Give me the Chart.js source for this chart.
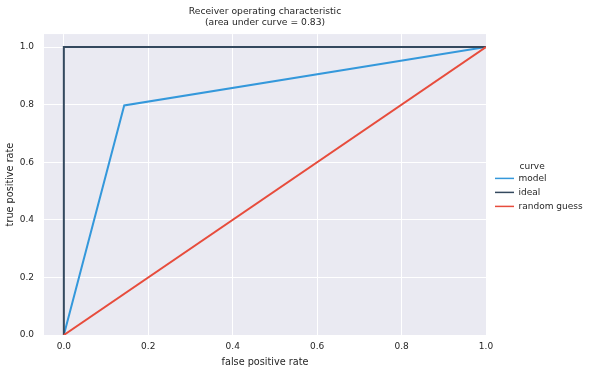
<!DOCTYPE html>
<html>
<head>
<meta charset="utf-8">
<script src="https://cdn.jsdelivr.net/npm/chart.js@4/dist/chart.umd.min.js"></script>
<style>
  html, body { margin: 0; padding: 0; background: #fff; }
  #wrap { width: 589px; height: 374px; position: relative; }
</style>
</head>
<body>
<div id="wrap"><canvas id="roc"></canvas></div>
<script>
// ── DATA ─────────────────────────────────────────────────────────────────────
const TITLE_LINES = ['Receiver operating characteristic', '(area under curve = 0.83)'];
const LEGEND_TITLE = 'curve';
const SERIES_NAMES = ['model', 'ideal', 'random guess'];
const MODEL_FPR  = [0, 0.143, 1];
const MODEL_TPR  = [0, 0.797, 1];
const IDEAL_FPR  = [0, 0, 1];
const IDEAL_TPR  = [0, 1, 1];
const RANDOM_FPR = [0, 1];
const RANDOM_TPR = [0, 1];
const TICKS = [0, 0.2, 0.4, 0.6, 0.8, 1.0];

const COLORS = { model: '#3498db', ideal: '#34495e', random: '#e74c3c' };
const FAMILY = 'DejaVu Sans';
const F_TITLE  = { family: FAMILY, size: 9.2, lineHeight: 1.2 };
const F_LABEL  = { family: FAMILY, size: 9.7 };
const F_TICK   = { family: FAMILY, size: 9 };
const F_LEGEND = { family: FAMILY, size: 9 };
const TEXT = '#262626';
const BOX_W = 19;
const LEGEND_W = 103;

const pts = (xs, ys) => xs.map((x, i) => ({ x, y: ys[i] }));

// seaborn-like background for the axes area
const plotBg = {
  id: 'plotBg',
  beforeDraw(chart) {
    const { ctx, chartArea: a } = chart;
    ctx.save();
    ctx.fillStyle = '#eaeaf2';
    ctx.fillRect(a.left, a.top, a.right - a.left, a.bottom - a.top);
    ctx.restore();
  },
};

// matplotlib-ish placement: fixed legend column, title centred over the axes
const mplLayout = {
  id: 'mplLayout',
  beforeLayout(chart) {
    const lg = chart.legend;
    if (lg && !lg._fixedW) {
      const fit = lg.fit;
      lg.fit = function () { fit.call(this); this.width = LEGEND_W; };
      lg._fixedW = true;
    }
  },
  afterLayout(chart) {
    const a = chart.chartArea;
    const t = chart.titleBlock;
    if (t) { t.left = a.left; t.right = a.right; t.width = a.right - a.left; }
    const lg = chart.legend;
    if (lg) {
      lg.left = a.right + 4;
      lg.right = chart.width;
      lg.width = lg.right - lg.left;
    }
  },
  // legend title aligned with the label text
  afterDraw(chart) {
    const lg = chart.legend;
    if (!lg || !lg.legendHitBoxes.length) return;
    const hb = lg.legendHitBoxes[0];
    const { ctx } = chart;
    ctx.save();
    ctx.font = `${F_LEGEND.size}px "${FAMILY}"`;
    ctx.fillStyle = TEXT;
    ctx.textAlign = 'left';
    ctx.textBaseline = 'middle';
    ctx.fillText(LEGEND_TITLE, hb.left + BOX_W + F_LEGEND.size / 2 + 1, hb.top - 7);
    ctx.restore();
  },
};

const line = (label, data, color, order) => ({
  label, data, order,
  showLine: true,
  borderColor: color,
  backgroundColor: color,
  borderWidth: 2,
  pointRadius: 0,
  tension: 0,
});

new Chart(document.getElementById('roc'), {
  type: 'scatter',
  data: {
    datasets: [
      line(SERIES_NAMES[0], pts(MODEL_FPR, MODEL_TPR), COLORS.model, 3),
      line(SERIES_NAMES[1], pts(IDEAL_FPR, IDEAL_TPR), COLORS.ideal, 2),
      line(SERIES_NAMES[2], pts(RANDOM_FPR, RANDOM_TPR), COLORS.random, 1),
    ],
  },
  options: {
    responsive: true, maintainAspectRatio: false,
    animation: false,
    layout: { padding: 0 },
    plugins: {
      tooltip: { enabled: false },
      title: {
        display: true,
        text: TITLE_LINES,
        color: TEXT,
        font: { ...F_TITLE, weight: 'normal' },
        padding: { top: 6.5, bottom: 5.5 },
      },
      legend: {
        position: 'right',
        align: 'center',
        // space kept for the title, which mplLayout draws
        title: { display: true, text: LEGEND_TITLE, color: 'rgba(0,0,0,0)', font: F_LEGEND, padding: { top: 5, bottom: -5 } },
        labels: {
          color: TEXT, font: F_LEGEND,
          boxWidth: BOX_W, boxHeight: 1.5,
          padding: 5,
          sort: (a, b) => a.datasetIndex - b.datasetIndex,
          generateLabels: chart =>
            Chart.defaults.plugins.legend.labels.generateLabels(chart)
              .map(it => ({ ...it, lineWidth: 0 })),
        },
      },
    },
    scales: {
      x: {
        type: 'linear',
        min: -0.047, max: 1.0,
        afterBuildTicks: s => { s.ticks = TICKS.map(v => ({ value: v })); },
        afterFit: s => { s.height = 39; },
        border: { display: false },
        grid: { color: '#ffffff', lineWidth: 1, drawTicks: false },
        ticks: { color: TEXT, font: F_TICK, padding: 6, callback: v => v.toFixed(1) },
        title: { display: true, text: 'false positive rate', color: TEXT, font: F_LABEL, padding: { top: 6, bottom: 6 } },
      },
      y: {
        type: 'linear',
        min: 0, max: 1.045,
        afterBuildTicks: s => { s.ticks = TICKS.map(v => ({ value: v })); },
        afterFit: s => { s.width = 44; },
        border: { display: false },
        grid: { color: '#ffffff', lineWidth: 1, drawTicks: false },
        ticks: { color: TEXT, font: F_TICK, padding: 10, callback: v => v.toFixed(1) },
        title: { display: true, text: 'true positive rate', color: TEXT, font: F_LABEL, padding: { top: 5, bottom: 5 } },
      },
    },
  },
  plugins: [plotBg, mplLayout],
});
</script>
</body>
</html>
